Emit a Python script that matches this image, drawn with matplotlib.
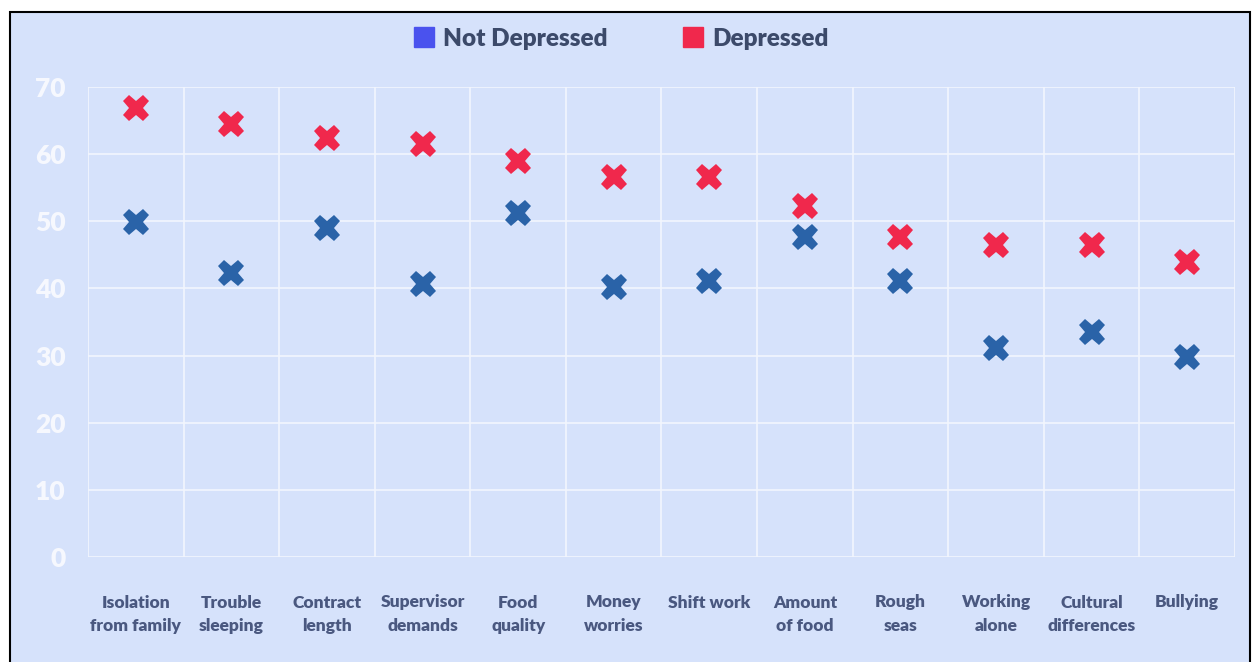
import numpy as np
import matplotlib.pyplot as plt
from matplotlib.patches import Rectangle
from matplotlib.lines import Line2D

# Stressors and share (%) of seafarers reporting them
categories = ['Isolation\nfrom family', 'Trouble\nsleeping', 'Contract\nlength',
              'Supervisor\ndemands', 'Food\nquality', 'Money\nworries', 'Shift work',
              'Amount\nof food', 'Rough\nseas', 'Working\nalone', 'Cultural\ndifferences',
              'Bullying']
not_depressed = [49.9, 42.3, 49.0, 40.7, 51.3, 40.2, 41.1, 47.7, 41.1, 31.1, 33.5, 29.8]
depressed = [66.8, 64.5, 62.4, 61.5, 59.0, 56.6, 56.6, 52.3, 47.7, 46.5, 46.5, 44.0]
y_ticks = [0, 10, 20, 30, 40, 50, 60, 70]

bg = '#d6e2fb'
blue_mark = '#2a63a8'
red_mark = '#f0284c'
blue_leg = '#4a52ee'
label_col = '#4a5880'

plt.rcParams['font.family'] = ['Lato', 'DejaVu Sans']

fig = plt.figure(figsize=(12.52, 6.62), dpi=100, facecolor='white')
# framed background
fig.patches.append(Rectangle((10 / 1252, -0.01), 1240 / 1252, 1 - 12 / 662 + 0.01,
                             transform=fig.transFigure, facecolor=bg,
                             edgecolor='black', linewidth=1.5, zorder=-1))

ax = fig.add_axes([88 / 1252, 1 - 557 / 662, (1235 - 88) / 1252, (557 - 87) / 662])
ax.set_zorder(2)
ax.set_facecolor(bg)

x = np.arange(len(categories))
ax.plot(x, not_depressed, linestyle='none', marker='X', markersize=19,
        color=blue_mark, markeredgewidth=0, zorder=3)
ax.plot(x, depressed, linestyle='none', marker='X', markersize=19,
        color=red_mark, markeredgewidth=0, zorder=3)

ax.set_xlim(-0.5, len(categories) - 0.5)
ax.set_ylim(0, 70)
ax.set_yticks(y_ticks)
ax.set_xticks(x)
ax.set_xticklabels(categories, fontsize=12.5, fontweight='heavy', color=label_col,
                   linespacing=1.6)
ax.set_xticks(np.arange(-0.5, len(categories), 1), minor=True)
for lab in ax.get_yticklabels():
    lab.set_fontsize(19)
    lab.set_fontweight('heavy')
    lab.set_color('#f6f8fe')
ax.tick_params(axis='x', which='both', length=0, pad=27)
ax.tick_params(axis='y', length=0, pad=16)
ax.grid(axis='y', color='#f2f6fe', linewidth=1.2)
ax.grid(axis='x', which='minor', color='#f2f6fe', linewidth=1.2)
ax.grid(axis='x', which='major', visible=False)
for s in ax.spines.values():
    s.set_visible(False)
ax.set_axisbelow(True)

handles = [Line2D([], [], linestyle='none', marker='s', markersize=15, color=blue_leg),
           Line2D([], [], linestyle='none', marker='s', markersize=15, color=red_mark)]
fig.legend(handles, ['Not Depressed', 'Depressed'], loc='center',
           bbox_to_anchor=(620 / 1252, 1 - 39 / 662), ncol=2, frameon=False,
           handletextpad=0.3, columnspacing=3.0, handlelength=1.0,
           prop={'size': 17.5, 'weight': 'heavy'}, labelcolor='#3c4a6a')

fig.savefig('out.png', dpi=100, facecolor='white')
